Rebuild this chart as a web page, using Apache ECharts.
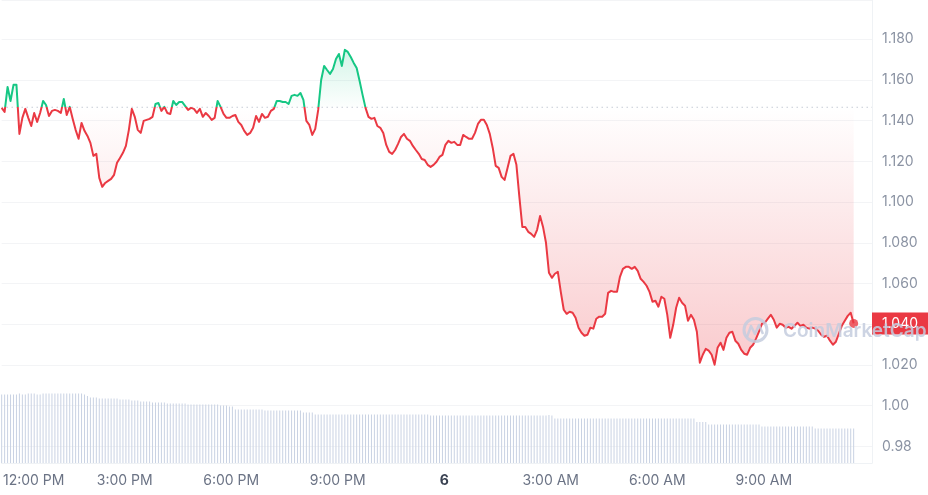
<!DOCTYPE html>
<html><head><meta charset="utf-8">
<script src="https://cdn.jsdelivr.net/npm/echarts@6/dist/echarts.min.js"></script>
<style>html,body{margin:0;padding:0;background:#fff}#c{width:928px;height:495px}</style>
</head><body><div id="c"></div>
<script>
// 5-minute price samples, 24h
const prices = [
1.1463,1.1443,1.1566,1.1497,1.1576,1.1576,1.1335,1.1414,1.1458,1.1414,1.1374,1.1438,
1.1394,1.1438,1.1497,1.1477,1.1423,1.1448,1.1453,1.1448,1.1438,1.1507,1.1428,1.1468,
1.1409,1.1355,1.1311,1.1389,1.1350,1.1325,1.1291,1.1227,1.1237,1.1119,1.1075,1.1094,
1.1104,1.1114,1.1134,1.1193,1.1217,1.1242,1.1276,1.1355,1.1458,1.1419,1.1355,1.1340,
1.1399,1.1404,1.1409,1.1419,1.1482,1.1487,1.1448,1.1468,1.1438,1.1433,1.1497,1.1477,
1.1492,1.1492,1.1473,1.1453,1.1463,1.1458,1.1438,1.1458,1.1419,1.1438,1.1423,1.1404,
1.1414,1.1497,1.1468,1.1433,1.1414,1.1414,1.1423,1.1428,1.1394,1.1379,1.1350,1.1330,
1.1340,1.1365,1.1423,1.1394,1.1433,1.1414,1.1419,1.1448,1.1458,1.1497,1.1497,1.1492,
1.1492,1.1482,1.1522,1.1527,1.1522,1.1536,1.1502,1.1399,1.1379,1.1330,1.1360,1.1453,
1.1600,1.1669,1.1649,1.1630,1.1654,1.1703,1.1728,1.1669,1.1748,1.1738,1.1713,1.1684,
1.1659,1.1595,1.1527,1.1463,1.1419,1.1409,1.1414,1.1374,1.1365,1.1340,1.1281,1.1247,
1.1237,1.1256,1.1286,1.1320,1.1335,1.1311,1.1301,1.1276,1.1256,1.1237,1.1212,1.1207,
1.1183,1.1173,1.1183,1.1198,1.1222,1.1232,1.1281,1.1301,1.1291,1.1296,1.1281,1.1281,
1.1330,1.1320,1.1311,1.1311,1.1340,1.1384,1.1404,1.1404,1.1379,1.1335,1.1266,1.1178,
1.1168,1.1124,1.1109,1.1168,1.1227,1.1237,1.1183,1.1026,1.0878,1.0878,1.0854,1.0844,
1.0829,1.0864,1.0932,1.0878,1.0800,1.0653,1.0628,1.0648,1.0657,1.0559,1.0471,1.0451,
1.0461,1.0456,1.0432,1.0383,1.0358,1.0343,1.0348,1.0383,1.0378,1.0427,1.0437,1.0437,
1.0451,1.0554,1.0564,1.0559,1.0559,1.0633,1.0672,1.0682,1.0682,1.0672,1.0682,1.0662,
1.0623,1.0608,1.0589,1.0559,1.0510,1.0515,1.0486,1.0535,1.0525,1.0446,1.0333,1.0397,
1.0481,1.0530,1.0505,1.0491,1.0417,1.0446,1.0422,1.0363,1.0211,1.0250,1.0279,1.0270,
1.0250,1.0201,1.0284,1.0309,1.0274,1.0333,1.0358,1.0363,1.0319,1.0304,1.0274,1.0255,
1.0250,1.0284,1.0299,1.0329,1.0363,1.0402,1.0407,1.0427,1.0446,1.0422,1.0383,1.0402,
1.0397,1.0383,1.0387,1.0378,1.0392,1.0407,1.0392,1.0397,1.0383,1.0378,1.0383,1.0378,
1.0368,1.0348,1.0338,1.0343,1.0319,1.0299,1.0314,1.0353,1.0392,1.0417,1.0441,1.0456,1.0404
];
// 5-minute volume samples (relative units)
const volumes = [
13.7,13.7,13.7,13.7,13.7,13.7,13.9,13.7,13.7,13.9,13.9,13.9,
13.7,13.7,13.9,13.9,13.9,13.9,13.9,13.9,13.9,13.9,13.9,13.9,
13.9,13.9,13.9,13.9,13.7,13.4,13.1,13.1,13.1,12.9,12.9,12.9,
12.9,12.9,12.9,12.9,12.7,12.7,12.7,12.7,12.5,12.5,12.5,12.3,
12.3,12.3,12.3,12.1,12.1,12.1,12.1,12.1,11.9,11.9,11.9,11.9,
11.9,11.9,11.9,11.7,11.7,11.7,11.7,11.7,11.7,11.7,11.7,11.7,
11.7,11.7,11.5,11.5,11.5,11.3,11.3,10.7,10.7,10.7,10.7,10.7,
10.7,10.7,10.7,10.7,10.7,10.5,10.5,10.5,10.5,10.5,10.5,10.5,
10.5,10.5,10.5,10.5,10.5,10.5,10.1,10.1,10.1,10.1,9.7,9.7,
9.7,9.7,9.7,9.7,9.7,9.7,9.7,9.7,9.7,9.7,9.7,9.7,
9.7,9.7,9.7,9.7,9.7,9.7,9.7,9.7,9.7,9.7,9.7,9.7,
9.7,9.7,9.7,9.7,9.7,9.7,9.7,9.7,9.7,9.7,9.7,9.7,
9.7,9.5,9.5,9.5,9.5,9.5,9.5,9.5,9.5,9.5,9.5,9.5,
9.5,9.5,9.5,9.5,9.5,9.5,9.5,9.5,9.5,9.5,9.5,9.5,
9.5,9.5,9.5,9.5,9.5,9.5,9.5,9.5,9.5,9.5,9.5,9.5,
9.5,9.5,9.5,9.5,9.5,9.6,9.5,8.9,8.9,8.9,8.9,8.9,
8.9,8.9,8.9,8.9,8.9,8.9,8.9,8.9,8.9,8.9,8.9,8.9,
8.9,8.9,8.9,8.9,8.9,8.9,8.9,8.9,8.9,8.9,8.9,8.9,
8.9,8.9,8.9,8.9,8.9,8.9,8.9,8.9,8.9,8.9,8.9,8.9,
8.9,8.9,8.9,8.9,8.9,8.9,8.9,8.2,8.2,8.2,8.2,7.7,
7.7,7.7,7.7,7.7,7.7,7.7,7.7,7.7,7.7,7.7,7.7,7.7,
7.7,7.7,7.7,7.7,7.7,7.3,7.3,7.3,7.3,7.3,7.3,7.3,
7.3,7.3,7.3,7.3,7.3,7.3,7.3,7.3,7.3,7.3,7.3,6.9,
6.9,6.9,6.9,6.9,6.9,6.9,6.9,6.9,6.9,6.9,6.9,6.9,
6.9
];
const baseline = 1.1466; // open price (dotted reference)
const xTickTimes = [
  Date.UTC(2024,9,5,12), Date.UTC(2024,9,5,15), Date.UTC(2024,9,5,18), Date.UTC(2024,9,5,21),
  Date.UTC(2024,9,6,0), Date.UTC(2024,9,6,3), Date.UTC(2024,9,6,6), Date.UTC(2024,9,6,9)
];
const xTickLabels = ['12:00 PM','3:00 PM','6:00 PM','9:00 PM','6','3:00 AM','6:00 AM','9:00 AM'];

const startTime = Date.UTC(2024,9,5,11,32);
const stepMs = 5*60*1000;
const times = prices.map((_, i) => startTime + i*stepMs);
const lastIdx = prices.length - 1;
const xMax = startTime + (24*60 + 31)*60*1000;

const GREEN = '#16c784', RED = '#ea3943';
const FONT = 'Inter';
const WM = 'rgba(196,205,222,0.85)';

const chart = echarts.init(document.getElementById('c'), null, {renderer:'canvas'});

function buildOption(baseY) {
  const H = 495;
  const b = Math.min(Math.max(baseY / H, 0), 1);
  const lineColor = {
    type: 'linear', x: 0, y: 0, x2: 0, y2: H, global: true,
    colorStops: [
      {offset: 0, color: GREEN}, {offset: b, color: GREEN},
      {offset: b, color: RED}, {offset: 1, color: RED}
    ]
  };
  const top = 45, bot = 370;
  const bb = (baseY - top) / (bot - top);
  const areaColor = {
    type: 'linear', x: 0, y: top, x2: 0, y2: bot, global: true,
    colorStops: [
      {offset: 0, color: 'rgba(22,199,132,0.2)'},
      {offset: Math.max(bb - 0.002, 0), color: 'rgba(22,199,132,0.01)'},
      {offset: bb, color: 'rgba(234,57,67,0.0)'},
      {offset: 1, color: 'rgba(234,57,67,0.27)'}
    ]
  };
  return {
    animation: false,
    backgroundColor: '#ffffff',
    grid: {left: 0, right: 56, top: 0, bottom: 32, containLabel: false},
    xAxis: {
      type: 'value',
      min: startTime,
      max: xMax,
      axisLine: {show: true, lineStyle: {color: '#eff2f5'}},
      axisTick: {show: false},
      splitLine: {show: false},
      axisLabel: {
        customValues: xTickTimes,
        margin: 11,
        color: '#6b7385',
        fontFamily: FONT,
        fontSize: 14,
        formatter: function (value) {
          const k = xTickTimes.indexOf(value);
          if (k < 0) return '';
          if (k === 0) return '{first|' + xTickLabels[k] + '}';
          if (xTickLabels[k].length < 3) return '{day|' + xTickLabels[k] + '}';
          return xTickLabels[k];
        },
        rich: {
          first: {padding: [0,0,0,31], color: '#6b7385', fontFamily: FONT, fontSize: 14},
          day: {fontWeight: 'bold', color: '#3a4252', fontFamily: FONT, fontSize: 14}
        }
      }
    },
    yAxis: [{
      type: 'value',
      position: 'right',
      min: 0.9718,
      max: 1.1993,
      splitNumber: 11,
      axisLine: {show: true, lineStyle: {color: '#eff2f5'}},
      axisTick: {show: false},
      splitLine: {show: true, lineStyle: {color: '#f3f4f6', width: 1}},
      axisLabel: {
        margin: 10,
        color: '#8b93a3',
        fontFamily: FONT,
        fontSize: 14,
        showMinLabel: false,
        showMaxLabel: false,
        formatter: v => (v >= 1.01 ? v.toFixed(3) : v.toFixed(2))
      }
    }, {
      type: 'value',
      min: 0,
      max: 92.6,
      show: false,
      splitLine: {show: false}
    }],
    series: [
      {
        type: 'bar',
        yAxisIndex: 1,
        barWidth: 1,
        itemStyle: {color: '#c9d2e3'},
        silent: true,
        z: 1,
        data: volumes.map((v, i) => [times[i], v])
      },
      {
        // dotted open-price reference
        type: 'line',
        yAxisIndex: 0,
        symbol: 'none',
        silent: true,
        z: 2,
        lineStyle: {color: '#a9b1c1', type: [1, 4], width: 1},
        data: [[times[0], baseline], [xMax, baseline]]
      },
      {
        type: 'line',
        yAxisIndex: 0,
        showSymbol: false,
        symbol: 'none',
        lineStyle: {width: 2, join: 'round', color: lineColor},
        areaStyle: {origin: baseline, opacity: 1, color: areaColor},
        silent: true,
        z: 3,
        data: prices.map((v, i) => [times[i], v])
      },
      {
        // current price tag at right edge
        type: 'line',
        yAxisIndex: 0,
        symbol: 'none',
        silent: true,
        z: 4,
        lineStyle: {opacity: 0},
        data: [[times[lastIdx], prices[lastIdx]], [xMax, prices[lastIdx]]],
        endLabel: {
          show: true,
          distance: 0,
          formatter: () => prices[lastIdx].toFixed(3),
          backgroundColor: RED,
          color: '#ffffff',
          fontFamily: FONT,
          fontSize: 14,
          lineHeight: 16,
          padding: [3, 11, 3, 10]
        }
      },
      {
        type: 'scatter',
        yAxisIndex: 0,
        symbol: 'circle',
        symbolSize: 9,
        itemStyle: {color: RED},
        silent: true,
        z: 5,
        data: [[times[lastIdx], prices[lastIdx]]]
      }
    ],
    graphic: [
      {type: 'circle', zlevel: 1, z: 100, silent: true, shape: {cx: 755.5, cy: 330, r: 11.5},
       style: {fill: 'none', stroke: WM, lineWidth: 3}},
      {type: 'polyline', zlevel: 1, z: 100, silent: true,
       shape: {points: [[747,337],[751,326],[755,334],[759,325],[763,334]]},
       style: {fill: 'none', stroke: WM, lineWidth: 2.5, lineJoin: 'round'}},
      {type: 'text', zlevel: 1, z: 100, silent: true, x: 783, y: 331,
       style: {text: 'CoinMarketCap', fill: WM, font: '600 19px Inter', textVerticalAlign: 'middle'}}
    ]
  };
}

chart.setOption(buildOption(107));
const baseY = chart.convertToPixel({yAxisIndex: 0}, baseline);
chart.setOption(buildOption(baseY), true);
</script>
</body></html>
